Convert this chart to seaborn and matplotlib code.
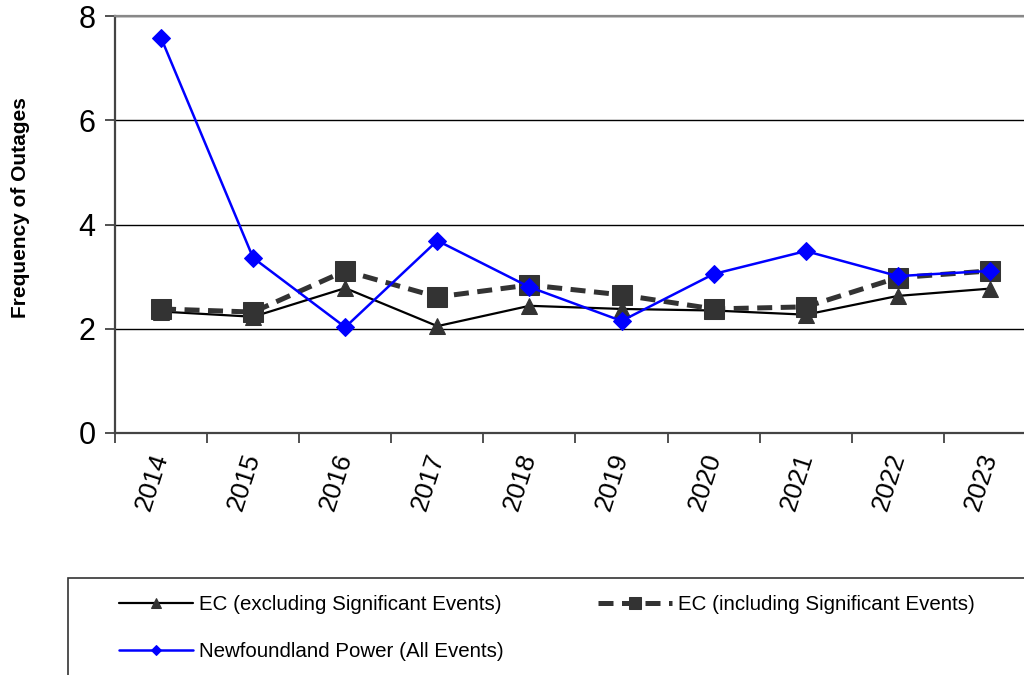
import matplotlib
matplotlib.use("Agg")
import matplotlib.pyplot as plt
import seaborn as sns
import pandas as pd
from matplotlib.patches import Rectangle
from matplotlib.ticker import FixedLocator

years = [2014, 2015, 2016, 2017, 2018, 2019, 2020, 2021, 2022, 2023]
ec_excl = [2.33, 2.23, 2.78, 2.05, 2.44, 2.38, 2.35, 2.27, 2.63, 2.77]
ec_incl = [2.38, 2.32, 3.11, 2.61, 2.84, 2.65, 2.38, 2.42, 2.98, 3.11]
nf_power = [7.58, 3.36, 2.03, 3.69, 2.80, 2.15, 3.05, 3.49, 3.01, 3.11]
labels = ["EC (excluding Significant Events)",
          "EC (including Significant Events)",
          "Newfoundland Power (All Events)"]

sns.set_theme(style="white")
plt.rcParams['font.family'] = ['Liberation Sans', 'DejaVu Sans']
plt.rcParams['text.color'] = 'black'
plt.rcParams['xtick.color'] = 'black'
plt.rcParams['ytick.color'] = 'black'
plt.rcParams['axes.labelcolor'] = 'black'

fig = plt.figure(figsize=(10.24, 6.75), dpi=100)
ax = fig.add_axes([115/1024, 1-433/675, 921/1024, 417/675])

df = pd.DataFrame({"year": years, "excl": ec_excl, "incl": ec_incl, "nf": nf_power})

sns.lineplot(data=df, x="year", y="excl", ax=ax, color="black", lw=1.6,
             marker="^", markersize=12, markerfacecolor="#333333",
             markeredgecolor="#333333", label=labels[0], zorder=3)
sns.lineplot(data=df, x="year", y="incl", ax=ax, color="#333333", lw=3.6,
             dashes=(3, 1.7), marker="s", markersize=14,
             markerfacecolor="#333333", markeredgecolor="#333333",
             label=labels[1], zorder=4)
sns.lineplot(data=df, x="year", y="nf", ax=ax, color="#0000ff", lw=1.8,
             marker="D", markersize=9, markerfacecolor="#0000ff",
             markeredgecolor="#0000ff", label=labels[2], zorder=5)

ax.set_xlim(years[0] - 0.5, years[-1] + 0.5)
ax.set_ylim(0, 8)
ax.set_yticks([0, 2, 4, 6, 8])
ax.set_xticks(years)
ax.set_xticklabels([str(y) for y in years], rotation=72, fontsize=19,
                   ha="right", va="center", rotation_mode="anchor")
ax.xaxis.set_minor_locator(FixedLocator([y - 0.5 for y in years] + [years[-1] + 0.5]))
ax.tick_params(axis="x", which="major", length=0, pad=15)
ax.tick_params(axis="x", which="minor", length=7, width=1.2, color="#333333", direction="out", bottom=True)
ax.tick_params(axis="y", which="major", length=7, width=1.2, color="#333333",
               direction="out", left=True, labelsize=22, pad=7)
ax.yaxis.grid(True, color="black", lw=1.0)
ax.set_axisbelow(True)
for s in ["left", "bottom"]:
    ax.spines[s].set_color("#444444")
    ax.spines[s].set_linewidth(1.6)
ax.spines["top"].set_color("#888888")
ax.spines["top"].set_linewidth(1.6)
ax.spines["right"].set_visible(False)
ax.set_xlabel("")
ax.set_ylabel("Frequency of Outages", fontsize=15, fontweight="bold")
ax.yaxis.set_label_coords(-85/921, (433 - 208)/417)

handles, labs = ax.get_legend_handles_labels()
ax.get_legend().remove()
order = [0, 2, 1]
fig.patches.append(Rectangle((68/1024, -0.1), 1.0, 1 - 578/675 + 0.1,
                             transform=fig.transFigure, fill=False,
                             edgecolor="#333333", lw=1.2))
fig.legend([handles[i] for i in order], [labs[i] for i in order], ncol=2,
           loc="upper left", bbox_to_anchor=(100/1024, 1 - 577/675),
           frameon=False, fontsize=14.8, handlelength=3.6, handletextpad=0.3,
           columnspacing=4.6, labelspacing=1.35, markerscale=0.6)

fig.savefig("out.png", dpi=100)
